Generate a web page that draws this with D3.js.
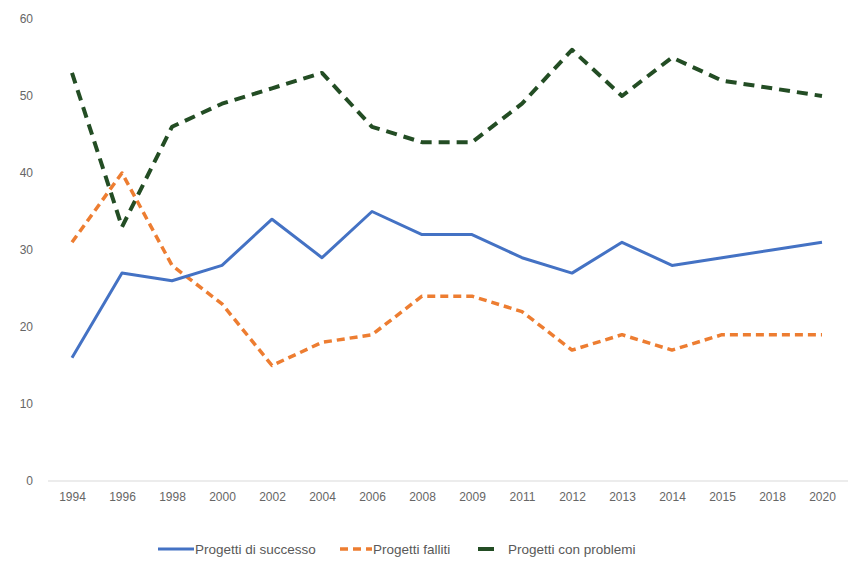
<!DOCTYPE html>
<html><head><meta charset="utf-8">
<script src="https://cdn.jsdelivr.net/npm/d3@7"></script>
<style>body{margin:0;background:#fff}</style>
</head><body>
<svg id="c" width="854" height="561"></svg>
<script>
const years = ["1994","1996","1998","2000","2002","2004","2006","2008","2009","2011","2012","2013","2014","2015","2018","2020"];
const successo = [16,27,26,28,34,29,35,32,32,29,27,31,28,29,30,31];
const falliti  = [31,40,28,23,15,18,19,24,24,22,17,19,17,19,19,19];
const problemi = [53,33,46,49,51,53,46,44,44,49,56,50,55,52,51,50];
const yTicks = [0,10,20,30,40,50,60];
const seriesNames = ["Progetti di successo","Progetti falliti","Progetti con problemi"];

const svg = d3.select("#c");
const x = d3.scalePoint().domain(years).range([72,822]);
const y = d3.scaleLinear().domain([0,60]).range([481,19]);

// baseline
svg.append("line").attr("x1",48).attr("x2",848).attr("y1",y(0)).attr("y2",y(0))
  .attr("stroke","#d9d9d9").attr("stroke-width",1);

const yAxis = d3.axisLeft(y).tickValues(yTicks).tickSize(0).tickPadding(0);
const gy = svg.append("g").attr("transform","translate(33,0)").call(yAxis);
gy.select(".domain").remove();
gy.selectAll("text").attr("font-family","Liberation Sans, Arial, sans-serif").attr("font-size",12).attr("fill","#666");

const xAxis = d3.axisBottom(x).tickSize(0).tickPadding(0);
const gx = svg.append("g").attr("transform","translate(0,492)").call(xAxis);
gx.select(".domain").remove();
gx.selectAll("text").attr("font-family","Liberation Sans, Arial, sans-serif").attr("font-size",12).attr("fill","#666");

const series = [
  {name:seriesNames[0], vals:successo, color:"#4472C4", dash:null, w:3},
  {name:seriesNames[1], vals:falliti, color:"#ED7D31", dash:"8,5", w:3.5},
  {name:seriesNames[2], vals:problemi, color:"#234D24", dash:"11,7", w:4}
];
const line = d3.line().x((d,i)=>x(years[i])).y(d=>y(d));
[series[2],series[1],series[0]].forEach(s=>{
  svg.append("path").datum(s.vals).attr("d",line).attr("fill","none")
    .attr("stroke",s.color).attr("stroke-width",s.w)
    .attr("stroke-dasharray",s.dash).attr("stroke-linejoin","round");
});

// legend
const legX = [158,340,478];
const legLen = [36,32,16];
const legTextX = [195,373,508];
const legY = 549;
series.forEach((s,i)=>{
  const g = svg.append("g");
  g.append("line").attr("x1",legX[i]).attr("x2",legX[i]+legLen[i]).attr("y1",legY).attr("y2",legY)
    .attr("stroke",s.color).attr("stroke-width",s.w).attr("stroke-dasharray",i===2?null:s.dash);
  g.append("text").attr("x", legTextX[i]).attr("y",legY+4.5)
    .attr("font-family","Liberation Sans, Arial, sans-serif").attr("font-size",13.5).attr("fill","#595959")
    .text(s.name);
});
</script>
</body></html>
